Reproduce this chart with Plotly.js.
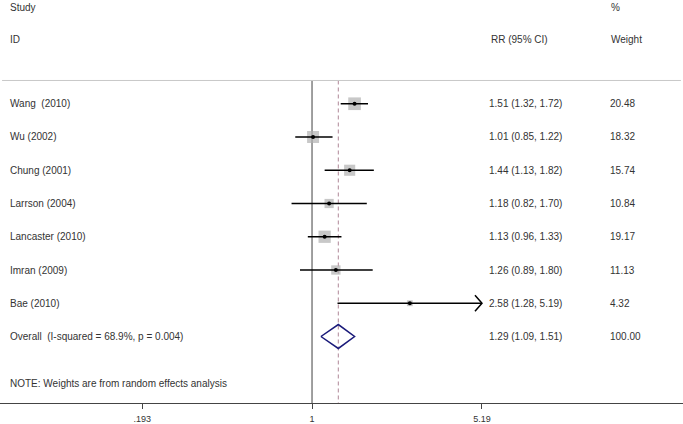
<!DOCTYPE html>
<html>
<head>
<meta charset="utf-8">
<script src="https://cdn.plot.ly/plotly-3.0.1.min.js"></script>
<style>
  html, body { margin: 0; padding: 0; background: #fff; }
  #chart { width: 683px; height: 424px; }
</style>
</head>
<body>
<div id="chart"></div>
<script>
// study rows, top to bottom
const studies = ['Wang\u00a0 (2010)', 'Wu (2002)', 'Chung (2001)', 'Larrson (2004)',
                 'Lancaster (2010)', 'Imran (2009)', 'Bae (2010)'];
const rr     = [1.51, 1.01, 1.44, 1.18, 1.13, 1.26, 2.58];
const lo     = [1.32, 0.85, 1.13, 0.82, 0.96, 0.89, 1.28];
const hi     = [1.72, 1.22, 1.82, 1.70, 1.33, 1.80, 5.19];
const weight = [20.48, 18.32, 15.74, 10.84, 19.17, 11.13, 4.32];

const overallLabel = 'Overall\u00a0 (I-squared = 68.9%, p = 0.004)';
const overallRR = 1.29, overallLo = 1.09, overallHi = 1.51, overallWeight = 100.00;

const tickVals = [0.193, 1, 5.19];
const tickText = ['.193', '1', '5.19'];

//--------------------------------------------------------------
const rows = studies.map((s, i) => i + 1);
const overallRow = studies.length + 1;
const xMax = tickVals[tickVals.length - 1];
const fmt = v => v.toFixed(2);
const txtFont = { family: 'Liberation Sans, Arial, sans-serif', size: 10, color: '#333' };

// CI segments, one trace with gaps
let ciX = [], ciY = [];
rows.forEach((r, i) => {
    ciX.push(lo[i], Math.min(hi[i], xMax), null);
    ciY.push(r, r, null);
});

const boxes = {
    x: rr, y: rows, type: 'scatter', mode: 'markers',
    marker: { symbol: 'square', color: '#b0b0b0', size: weight.map(w => 2.8 * Math.sqrt(w)), line: { width: 0 } },
    hoverinfo: 'skip'
};
const ciLines = {
    x: ciX, y: ciY, type: 'scatter', mode: 'lines',
    line: { color: '#000', width: 1.5 }, hoverinfo: 'skip'
};
const dots = {
    x: rr, y: rows, type: 'scatter', mode: 'markers',
    marker: { symbol: 'circle', color: '#000', size: 4 }, hoverinfo: 'skip'
};
const h = 0.36;
const diamond = {
    x: [overallLo, overallRR, overallHi, overallRR, overallLo],
    y: [overallRow, overallRow - h, overallRow, overallRow + h, overallRow],
    type: 'scatter', mode: 'lines', line: { color: '#1a1a7a', width: 1.5 }, hoverinfo: 'skip'
};
const nullLine = {
    x: [1, 1], y: [0.3, 10], type: 'scatter', mode: 'lines',
    line: { color: '#808080', width: 1.5 }, hoverinfo: 'skip'
};
const effLine = {
    x: [overallRR, overallRR], y: [0.3, 10], type: 'scatter', mode: 'lines',
    line: { color: '#b08898', width: 1, dash: '4px,3px' }, hoverinfo: 'skip'
};

let annotations = [];
function addText(text, px, row) {
    annotations.push({ text: text, xref: 'paper', x: px / 683, xanchor: 'left',
        yref: 'y', y: row, yanchor: 'middle', showarrow: false, font: txtFont });
}
addText('Study', 8, -1.88);
addText('ID', 8, -0.92);
addText('RR (95% CI)', 489, -0.92);
addText('%', 609, -1.88);
addText('Weight', 609, -0.92);
rows.forEach((r, i) => {
    addText(studies[i], 8, r);
    addText(fmt(rr[i]) + ' (' + fmt(lo[i]) + ', ' + fmt(hi[i]) + ')', 487, r);
    addText(fmt(weight[i]), 608, r);
});
addText(overallLabel, 8, overallRow);
addText(fmt(overallRR) + ' (' + fmt(overallLo) + ', ' + fmt(overallHi) + ')', 487, overallRow);
addText(fmt(overallWeight), 608, overallRow);
addText('NOTE: Weights are from random effects analysis', 8, 9.42);

let shapes = [
    { type: 'line', xref: 'paper', x0: 0.003, x1: 0.997, yref: 'y', y0: 0.3, y1: 0.3,
      line: { color: '#c8c8c8', width: 1 } }
];
// arrow for CIs running off the axis
rows.forEach((r, i) => {
    if (hi[i] >= xMax) {
        shapes.push({ type: 'path', xref: 'x', yref: 'y', xsizemode: 'pixel', ysizemode: 'pixel',
            xanchor: xMax, yanchor: r, path: 'M-7,8 L0,0 L-7,-8',
            line: { color: '#000', width: 1.5 } });
    }
});

const layout = {
    width: 683, height: 424,
    margin: { l: 0, r: 0, t: 0, b: 21 },
    paper_bgcolor: '#fff', plot_bgcolor: '#fff',
    showlegend: false, hovermode: false,
    font: txtFont,
    xaxis: {
        type: 'log', range: [-1.313, 1.561], fixedrange: true,
        tickmode: 'array', tickvals: tickVals, ticktext: tickText,
        ticks: 'outside', ticklen: 5, tickcolor: '#444', tickwidth: 1,
        ticklabelstandoff: 2,
        showline: true, linecolor: '#444', linewidth: 1,
        showgrid: false, zeroline: false,
        tickfont: { family: 'Liberation Sans, Arial, sans-serif', size: 9, color: '#333' }
    },
    yaxis: {
        range: [10, -2.12], fixedrange: true, visible: false,
        showgrid: false, zeroline: false
    },
    annotations: annotations,
    shapes: shapes
};

Plotly.newPlot('chart', [nullLine, effLine, boxes, ciLines, dots, diamond], layout, { displayModeBar: false, staticPlot: true });
</script>
</body>
</html>
